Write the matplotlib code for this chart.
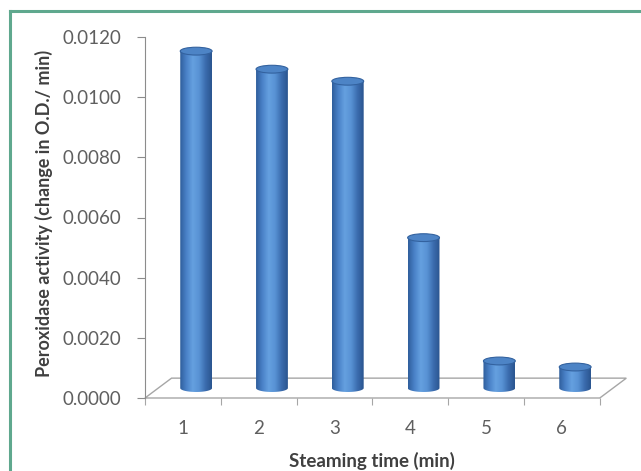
import matplotlib.pyplot as plt
import numpy as np
from matplotlib.patches import Polygon, Ellipse
from matplotlib.lines import Line2D
from matplotlib.colors import LinearSegmentedColormap

plt.rcParams['font.family'] = ['Lato', 'DejaVu Sans']

steaming_time = ["1", "2", "3", "4", "5", "6"]
activity = [0.0112, 0.0106, 0.0102, 0.0050, 0.0009, 0.0007]
yticks = [0.0, 0.002, 0.004, 0.006, 0.008, 0.010, 0.012]

axisgrau = "#8c8c8c"
bodengrau = "#a6a6a6"
textgrau = "#5f5f5f"
rahmen = "#5fa88e"

# oblique 3d look: depth offset of the floor in data units
DX = 0.35
DY = 0.00066
RX = 0.21
RY = 0.00013

fig = plt.figure(figsize=(6.41, 4.71), dpi=100)
ax = fig.add_axes([145/641, 73/471, (636-145)/641, 361/471])

n = len(activity)
ax.set_xlim(0.5, 0.5 + (636-145)/75.8)
ax.set_ylim(0, 0.012)

# floor
boden = Polygon([(0.5, 0), (n + 0.5, 0), (n + 0.5 + DX, DY), (0.5 + DX, DY)],
                closed=True, facecolor="white", edgecolor=bodengrau, lw=1.0, clip_on=False, zorder=1)
ax.add_patch(boden)

cmap = LinearSegmentedColormap.from_list("zyl", ["#2f5e9c", "#4a82c8", "#65a0e0", "#5892d4", "#3b6cae", "#2a558f"])
grad = np.linspace(0, 1, 200).reshape(1, -1)

for i, v in enumerate(activity):
    cx = i + 1 + DX/2
    b = DY/2
    t = b + v
    ang = np.linspace(np.pi, 2*np.pi, 60)
    pts = [(cx - RX, t)] + list(zip(cx + RX*np.cos(ang), b + RY*np.sin(ang))) + [(cx + RX, t)]
    koerper = Polygon(pts, closed=True, facecolor="none", edgecolor="none", zorder=3)
    ax.add_patch(koerper)
    im = ax.imshow(grad, cmap=cmap, aspect="auto", extent=(cx - RX, cx + RX, b - RY, t),
                   zorder=3, interpolation="bilinear")
    im.set_clip_path(koerper)
    deckel = Ellipse((cx, t), 2*RX, 2*RY, facecolor="#4d84c6", edgecolor="#33629f", lw=0.8, zorder=4)
    ax.add_patch(deckel)

ax.set_xlim(0.5, 0.5 + (636-145)/75.8)
ax.set_ylim(0, 0.012)

for s in ["top", "right", "bottom"]:
    ax.spines[s].set_visible(False)
ax.spines["left"].set_color(axisgrau)

ax.set_yticks(yticks)
ax.set_yticklabels(["%.4f" % y for y in yticks])
ax.tick_params(axis="y", length=6, color=axisgrau, labelcolor=textgrau, labelsize=13.5, pad=11)

ax.set_xticks(np.arange(0.5, n + 1, 1.0))
ax.set_xticklabels([])
ax.set_xticks(np.arange(1, n + 1), minor=True)
ax.set_xticklabels(steaming_time, minor=True)
ax.tick_params(axis="x", which="major", length=5, color=bodengrau)
ax.tick_params(axis="x", which="minor", length=0, labelcolor=textgrau, labelsize=13.5, pad=16)

fig.text(44/641, 1 - 213/471, "Peroxidase activity (change in O.D./ min)", rotation=90,
         ha="center", va="center", fontsize=13, fontweight="bold", color="#404040")
fig.text(372/641, 1 - 461/471, "Steaming time (min)", ha="center", va="center",
         fontsize=13.5, fontweight="bold", color="#404040")

# green frame (cut off at right and bottom)
fig.add_artist(Line2D([10/641, 1], [1 - 11/471, 1 - 11/471], color=rahmen, lw=2.2, transform=fig.transFigure))
fig.add_artist(Line2D([10/641, 10/641], [0, 1 - 11/471], color=rahmen, lw=2.2, transform=fig.transFigure))

plt.savefig("out.png", dpi=100)
plt.close()
